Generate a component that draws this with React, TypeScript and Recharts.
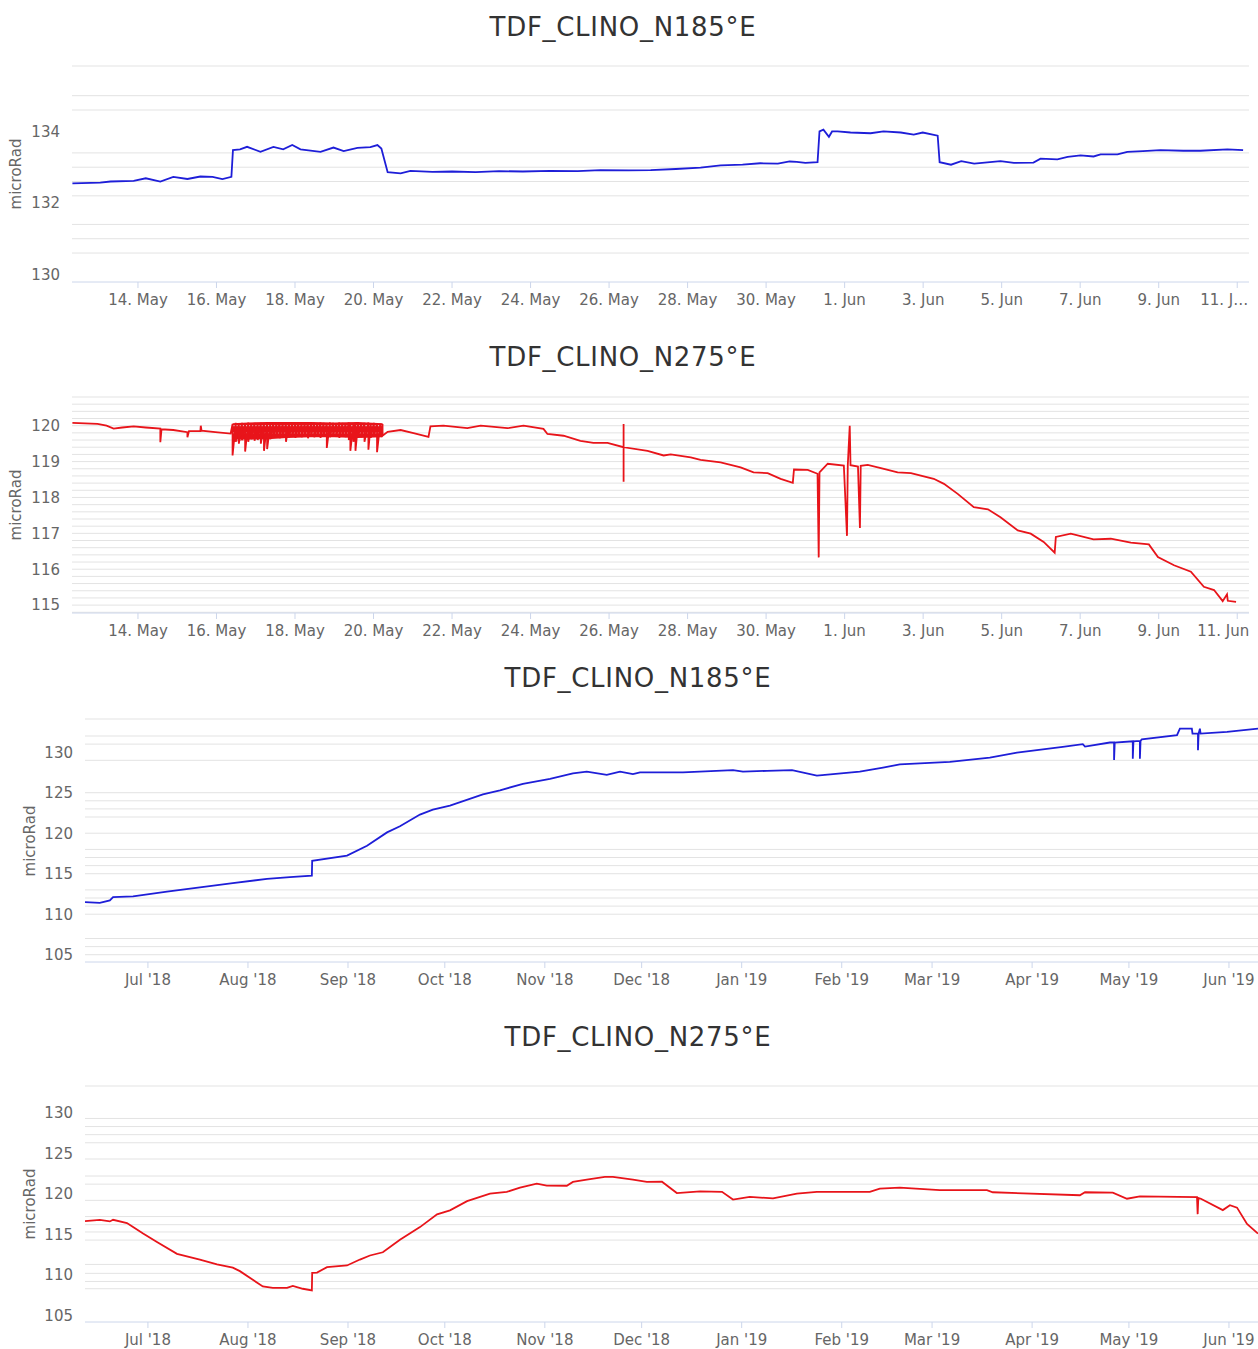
import React from "react";
import { ComposedChart, Line, Area, XAxis, YAxis, ReferenceLine } from "recharts";

// short-term charts: x = days since 30 Apr 2019 (so 14 = 14. May, 32 = 1. Jun)
const shortTicks = [14, 16, 18, 20, 22, 24, 26, 28, 30, 32, 34, 36, 38, 40, 42];

// long-term charts: x = days since 1 Jul 2018
const monthTicks = [0, 31, 62, 92, 123, 153, 184, 215, 243, 274, 304, 335];
const monthLabels = [
  "Jul '18", "Aug '18", "Sep '18", "Oct '18", "Nov '18", "Dec '18",
  "Jan '19", "Feb '19", "Mar '19", "Apr '19", "May '19", "Jun '19",
];

const n185Short: [number, number][] = [
  [12.33, 132.55], [13.04, 132.57], [13.3, 132.6], [13.89, 132.62], [14.2, 132.69],
  [14.57, 132.6], [14.9, 132.73], [15.26, 132.67], [15.59, 132.74], [15.9, 132.73],
  [16.15, 132.67], [16.38, 132.73], [16.42, 133.48], [16.6, 133.5], [16.78, 133.57],
  [17.12, 133.43], [17.45, 133.57], [17.7, 133.5], [17.93, 133.62], [18.14, 133.5],
  [18.65, 133.43], [18.98, 133.55], [19.24, 133.45], [19.59, 133.54], [19.92, 133.56],
  [20.1, 133.62], [20.2, 133.52], [20.36, 132.86], [20.69, 132.83], [20.94, 132.9],
  [21.5, 132.87], [22.0, 132.88], [22.6, 132.86], [23.2, 132.89], [23.8, 132.88],
  [24.5, 132.9], [25.2, 132.89], [25.78, 132.92], [26.5, 132.91], [27.06, 132.92],
  [27.7, 132.95], [28.33, 132.99], [28.84, 133.05], [29.4, 133.07], [29.85, 133.11],
  [30.3, 133.1], [30.6, 133.16], [30.78, 133.15], [31.0, 133.12], [31.31, 133.14],
  [31.36, 134.0], [31.46, 134.05], [31.6, 133.85], [31.68, 134.0], [31.82, 134.0],
  [32.15, 133.97], [32.66, 133.95], [32.99, 134.0], [33.43, 133.97], [33.76, 133.91],
  [33.99, 133.97], [34.37, 133.88], [34.42, 133.14], [34.71, 133.07], [34.97, 133.17],
  [35.3, 133.1], [35.97, 133.17], [36.31, 133.12], [36.81, 133.13], [36.99, 133.24],
  [37.42, 133.22], [37.68, 133.29], [38.01, 133.33], [38.34, 133.3], [38.52, 133.36],
  [38.95, 133.36], [39.2, 133.43], [39.6, 133.45], [40.04, 133.48], [40.63, 133.46],
  [41.06, 133.46], [41.75, 133.5], [42.15, 133.48],
];

const n275ShortA: [number, number][] = [
  [12.33, 120.08], [12.97, 120.05], [13.2, 120.0], [13.38, 119.92], [13.6, 119.95],
  [13.89, 119.98], [14.2, 119.95], [14.57, 119.92], [14.57, 119.54], [14.6, 119.9],
  [14.9, 119.88], [15.26, 119.82], [15.26, 119.68], [15.3, 119.85], [15.59, 119.85],
  [15.6, 120.0], [15.62, 119.86], [15.97, 119.82], [16.36, 119.78],
];

// noisy stretch 16.4 - 20.2 May: [day, high, low]
const n275Noise: [number, number, number][] = [
  [16.41, 120.05, 119.17], [16.49, 120.08, 119.55], [16.57, 120.06, 119.5], [16.65, 120.08, 119.6],
  [16.73, 120.05, 119.28], [16.81, 120.09, 119.55], [16.89, 120.07, 119.62], [16.97, 120.08, 119.58],
  [17.05, 120.06, 119.6], [17.13, 120.08, 119.5], [17.21, 120.07, 119.3], [17.29, 120.09, 119.35],
  [17.37, 120.06, 119.62], [17.45, 120.08, 119.66], [17.53, 120.07, 119.7], [17.61, 120.09, 119.65],
  [17.69, 120.08, 119.7], [17.77, 120.06, 119.55], [17.85, 120.09, 119.68], [17.93, 120.08, 119.7],
  [18.01, 120.07, 119.66], [18.09, 120.09, 119.72], [18.17, 120.06, 119.68], [18.25, 120.08, 119.7],
  [18.33, 120.09, 119.65], [18.41, 120.07, 119.72], [18.49, 120.08, 119.68], [18.57, 120.06, 119.7],
  [18.65, 120.09, 119.66], [18.73, 120.08, 119.7], [18.81, 120.07, 119.38], [18.89, 120.09, 119.68],
  [18.97, 120.08, 119.72], [19.05, 120.06, 119.7], [19.13, 120.09, 119.66], [19.21, 120.08, 119.7],
  [19.29, 120.07, 119.68], [19.37, 120.09, 119.6], [19.41, 120.08, 119.3], [19.49, 120.07, 119.55],
  [19.54, 120.08, 119.3], [19.61, 120.09, 119.7], [19.69, 120.07, 119.68], [19.77, 120.08, 119.55],
  [19.87, 120.09, 119.33], [19.93, 120.06, 119.66], [20.01, 120.08, 119.7], [20.09, 120.07, 119.26],
  [20.17, 120.06, 119.7], [20.23, 120.05, 119.72],
];

// dense core of that stretch (solid band): [day, low, high]
const n275Band: [number, number, number][] = [
  [16.41, 119.55, 120.07], [16.8, 119.6, 120.09], [17.3, 119.62, 120.1], [17.8, 119.66, 120.1],
  [18.4, 119.68, 120.1], [19.0, 119.68, 120.09], [19.6, 119.66, 120.1], [20.23, 119.68, 120.07],
];

const n275ShortB: [number, number][] = [
  [20.36, 119.83], [20.69, 119.88], [21.02, 119.79], [21.4, 119.69], [21.45, 119.98],
  [21.78, 120.0], [22.39, 119.93], [22.73, 120.0], [23.41, 119.93], [23.82, 120.0],
  [24.33, 119.91], [24.43, 119.77], [24.84, 119.72], [25.27, 119.58], [25.6, 119.52],
  [25.96, 119.52], [26.37, 119.4], [26.37, 120.05], [26.37, 118.44], [26.37, 119.4],
  [26.98, 119.3], [27.39, 119.17], [27.57, 119.2], [28.08, 119.12], [28.33, 119.05],
  [28.84, 118.98], [29.35, 118.84], [29.68, 118.7], [30.04, 118.68], [30.37, 118.52],
  [30.68, 118.41], [30.71, 118.78], [31.06, 118.77], [31.31, 118.66], [31.34, 116.33],
  [31.36, 118.7], [31.57, 118.94], [31.98, 118.89], [32.06, 116.93], [32.08, 118.89],
  [32.13, 120.0], [32.15, 118.9], [32.34, 118.86], [32.39, 117.15], [32.41, 118.88],
  [32.59, 118.91], [33.0, 118.8], [33.35, 118.7], [33.69, 118.68], [33.94, 118.61],
  [34.27, 118.52], [34.53, 118.38], [34.88, 118.1], [35.29, 117.73], [35.65, 117.67],
  [35.97, 117.45], [36.41, 117.08], [36.74, 116.99], [37.07, 116.76], [37.35, 116.46],
  [37.38, 116.9], [37.76, 116.99], [38.34, 116.83], [38.78, 116.85], [39.29, 116.74],
  [39.75, 116.69], [39.98, 116.34], [40.39, 116.11], [40.82, 115.93], [41.15, 115.51],
  [41.41, 115.42], [41.63, 115.11], [41.74, 115.3], [41.76, 115.12], [41.97, 115.09],
];

const n185Long: [number, number][] = [
  [-19.5, 111.5], [-14.9, 111.4], [-11.8, 111.7], [-10.8, 112.1], [-4.6, 112.2],
  [5.9, 112.8], [16.1, 113.3], [26.3, 113.83], [36.9, 114.36], [44.0, 114.57],
  [50.8, 114.77], [50.9, 116.6], [61.7, 117.23], [67.9, 118.46], [74.1, 120.1],
  [78.1, 120.85], [84.3, 122.3], [88.3, 122.9], [93.6, 123.4], [103.8, 124.8],
  [109.1, 125.3], [116.2, 126.1], [124.6, 126.7], [131.7, 127.4], [136.0, 127.6],
  [142.2, 127.2], [146.3, 127.6], [150.3, 127.3], [152.5, 127.5], [165.8, 127.5],
  [181.3, 127.8], [184.4, 127.6], [191.8, 127.7], [199.6, 127.8], [207.3, 127.1],
  [212.3, 127.3], [220.6, 127.6], [227.8, 128.1], [233.0, 128.5], [248.5, 128.8],
  [260.9, 129.34], [269.3, 129.96], [283.5, 130.65], [289.7, 131.0], [290.4, 130.7],
  [298.1, 131.2], [299.4, 131.2], [299.4, 129.05], [299.6, 131.2], [305.2, 131.35],
  [305.2, 129.2], [305.4, 131.35], [307.4, 131.4], [307.4, 129.2], [307.6, 131.4],
  [308.0, 131.6], [318.9, 132.1], [319.8, 132.9], [323.5, 132.9], [323.7, 132.3],
  [325.4, 132.3], [325.4, 130.25], [325.6, 132.3], [326.0, 132.9], [326.2, 132.3],
  [334.4, 132.5], [344.0, 132.9],
];

const n275Long: [number, number][] = [
  [-19.5, 116.65], [-14.9, 116.8], [-11.8, 116.6], [-10.8, 116.8], [-6.5, 116.4],
  [-4.6, 115.9], [-1.5, 115.1], [2.8, 114.06], [9.0, 112.6], [16.1, 111.9],
  [21.4, 111.3], [26.3, 110.9], [28.5, 110.47], [32.5, 109.4], [35.6, 108.58],
  [38.7, 108.4], [43.1, 108.4], [44.9, 108.66], [48.0, 108.3], [50.8, 108.1],
  [50.9, 110.27], [52.4, 110.3], [55.5, 110.96], [61.7, 111.17], [65.7, 111.9],
  [68.8, 112.4], [72.8, 112.8], [78.1, 114.35], [84.3, 115.9], [89.6, 117.48],
  [93.6, 117.97], [98.9, 119.1], [106.0, 120.03], [111.2, 120.24], [115.3, 120.78],
  [120.5, 121.27], [123.6, 121.02], [129.8, 121.0], [131.7, 121.47], [136.0, 121.76],
  [141.6, 122.09], [144.1, 122.09], [150.3, 121.76], [154.6, 121.47], [159.3, 121.5],
  [163.9, 120.1], [171.1, 120.3], [177.9, 120.25], [181.3, 119.3], [186.5, 119.62],
  [193.7, 119.45], [201.1, 120.03], [207.3, 120.24], [217.5, 120.24], [223.7, 120.24],
  [226.8, 120.65], [233.0, 120.78], [245.4, 120.45], [260.0, 120.45], [261.8, 120.2],
  [288.8, 119.83], [290.4, 120.2], [299.0, 120.15], [303.4, 119.4], [307.4, 119.7],
  [325.1, 119.6], [325.3, 117.5], [325.5, 119.5], [326.3, 119.4], [333.1, 118.0],
  [335.3, 118.6], [337.5, 118.3], [340.6, 116.3], [344.0, 115.1],
];

// horizontal grid lines, as seen in the picture
const grid1 = [135.83, 135.0, 134.6, 133.4, 133.0, 132.6, 132.2, 131.4, 131.0, 130.6];
const grid2: number[] = [];
for (let v = 114.8; v < 120.85; v += 0.2) grid2.push(Math.round(v * 100) / 100);
const grid3 = [134.1, 132, 131, 129, 125, 124, 123, 122, 120, 118, 117, 116, 115, 113, 112, 111, 110, 107, 106, 105];
const grid4 = [133.3, 129.3, 128.3, 127.3, 126.3, 124.3, 122.2, 121.2, 119.2, 117.2, 116.2, 115.3, 114.3, 111.3, 110.2, 109.2, 108.3];

const BLUE = "#1e1ed8";
const RED = "#e8141a";
const FONT = "'DejaVu Sans', sans-serif";

const rows = (pts: [number, number][]) => pts.map(([d, v]) => ({ d, v }));

const shortFmt = (last: string) => (d: number) =>
  d === 42 ? last : d <= 31 ? `${d}. May` : `${d - 31}. Jun`;
const monthFmt = (t: number) => monthLabels[monthTicks.indexOf(t)] ?? "";

function XTick(props: any) {
  const { x, y, payload, fmt, lastValue, lastShift } = props;
  const shift = payload.value === lastValue ? lastShift : 0;
  return (
    <text x={x + shift} y={y} dy="0.71em" textAnchor="middle" fill="#666" fontSize={15} fontFamily={FONT}>
      {fmt(payload.value)}
    </text>
  );
}

type PanelProps = {
  top: number;
  height: number;
  plotTop: number;
  xAxisH: number;
  yAxisW: number;
  right: number;
  title: string;
  titleX: number;
  titleY: number;
  ylabX: number;
  color: string;
  data: { d: number; v: number }[];
  band?: { d: number; band: [number, number] }[];
  xDomain: [number, number];
  xTicks: number[];
  xFmt: (v: number) => string;
  lastShift: number;
  yDomain: [number, number];
  yTicks: number[];
  grid: number[];
};

function Panel(p: PanelProps) {
  const plotBottom = p.top + p.height - p.xAxisH;
  const ylabY = (p.plotTop + plotBottom) / 2 - p.top;
  return (
    <div style={{ position: "absolute", left: 0, top: p.top, width: 1258, height: p.height }}>
      <ComposedChart
        width={1258}
        height={p.height}
        data={p.data}
        margin={{ top: p.plotTop - p.top, right: p.right, bottom: 0, left: 0 }}
      >
        {p.grid.map((g) => (
          <ReferenceLine key={g} y={g} stroke="#e3e3e3" strokeWidth={1} />
        ))}
        <XAxis
          dataKey="d"
          type="number"
          domain={p.xDomain}
          allowDataOverflow
          ticks={p.xTicks}
          interval={0}
          height={p.xAxisH}
          axisLine={{ stroke: "#ccd6eb" }}
          tickLine={{ stroke: "#ccd6eb" }}
          tickSize={6}
          tickMargin={6}
          tick={(tp: any) => (
            <XTick {...tp} fmt={p.xFmt} lastValue={p.xTicks[p.xTicks.length - 1]} lastShift={p.lastShift} />
          )}
        />
        <YAxis
          type="number"
          domain={p.yDomain}
          allowDataOverflow
          ticks={p.yTicks}
          interval={0}
          width={p.yAxisW}
          axisLine={false}
          tickLine={false}
          tickSize={6}
          tickMargin={6}
          tick={{ fill: "#666", fontSize: 15, fontFamily: FONT }}
        />
        {p.band && (
          <Area
            data={p.band}
            type="linear"
            dataKey="band"
            stroke="none"
            fill={p.color}
            fillOpacity={1}
            isAnimationActive={false}
          />
        )}
        <Line
          type="linear"
          dataKey="v"
          stroke={p.color}
          strokeWidth={1.8}
          dot={false}
          isAnimationActive={false}
        />
      </ComposedChart>
      <div
        style={{
          position: "absolute",
          left: p.titleX - 250,
          width: 500,
          top: p.titleY - p.top - 16,
          lineHeight: "32px",
          textAlign: "center",
          fontFamily: FONT,
          fontSize: 26,
          letterSpacing: 0.7,
          color: "#333",
        }}
      >
        {p.title}
      </div>
      <div
        style={{
          position: "absolute",
          left: p.ylabX,
          top: ylabY,
          transform: "translate(-50%, -50%) rotate(-90deg)",
          fontFamily: FONT,
          fontSize: 15,
          color: "#666",
          whiteSpace: "nowrap",
        }}
      >
        microRad
      </div>
    </div>
  );
}

export default function App() {
  const chart2 = [
    ...n275ShortA,
    ...n275Noise.flatMap(([d, hi, lo]) => [[d, hi], [d, lo]] as [number, number][]),
    ...n275ShortB,
  ];
  const band2 = n275Band.map(([d, lo, hi]) => ({ d, band: [lo, hi] as [number, number] }));
  return (
    <div style={{ position: "relative", width: 1258, height: 1349, background: "#fff", overflow: "hidden" }}>
      <style>{"body{margin:0}"}</style>
      <Panel
        top={0} height={320} plotTop={66} xAxisH={38} yAxisW={72} right={9}
        title="TDF_CLINO_N185°E" titleX={623} titleY={27} ylabX={16}
        color={BLUE} data={rows(n185Short)}
        xDomain={[12.32, 42.3]} xTicks={shortTicks} xFmt={shortFmt("11. J…")} lastShift={-13}
        yDomain={[129.79, 135.83]} yTicks={[130, 132, 134]} grid={grid1}
      />
      <Panel
        top={330} height={320} plotTop={397} xAxisH={37} yAxisW={72} right={9}
        title="TDF_CLINO_N275°E" titleX={623} titleY={357} ylabX={16}
        color={RED} data={rows(chart2)} band={band2}
        xDomain={[12.32, 42.3]} xTicks={shortTicks} xFmt={shortFmt("11. Jun")} lastShift={-14}
        yDomain={[114.78, 120.8]} yTicks={[115, 116, 117, 118, 119, 120]} grid={grid2}
      />
      <Panel
        top={660} height={340} plotTop={719} xAxisH={38} yAxisW={85} right={0}
        title="TDF_CLINO_N185°E" titleX={638} titleY={678} ylabX={30}
        color={BLUE} data={rows(n185Long)}
        xDomain={[-19.5, 344]} xTicks={monthTicks} xFmt={monthFmt} lastShift={0}
        yDomain={[104.1, 134.1]} yTicks={[105, 110, 115, 120, 125, 130]} grid={grid3}
      />
      <Panel
        top={1010} height={339} plotTop={1086} xAxisH={27} yAxisW={85} right={0}
        title="TDF_CLINO_N275°E" titleX={638} titleY={1037} ylabX={30}
        color={RED} data={rows(n275Long)}
        xDomain={[-19.5, 344]} xTicks={monthTicks} xFmt={monthFmt} lastShift={0}
        yDomain={[104.2, 133.3]} yTicks={[105, 110, 115, 120, 125, 130]} grid={grid4}
      />
    </div>
  );
}
